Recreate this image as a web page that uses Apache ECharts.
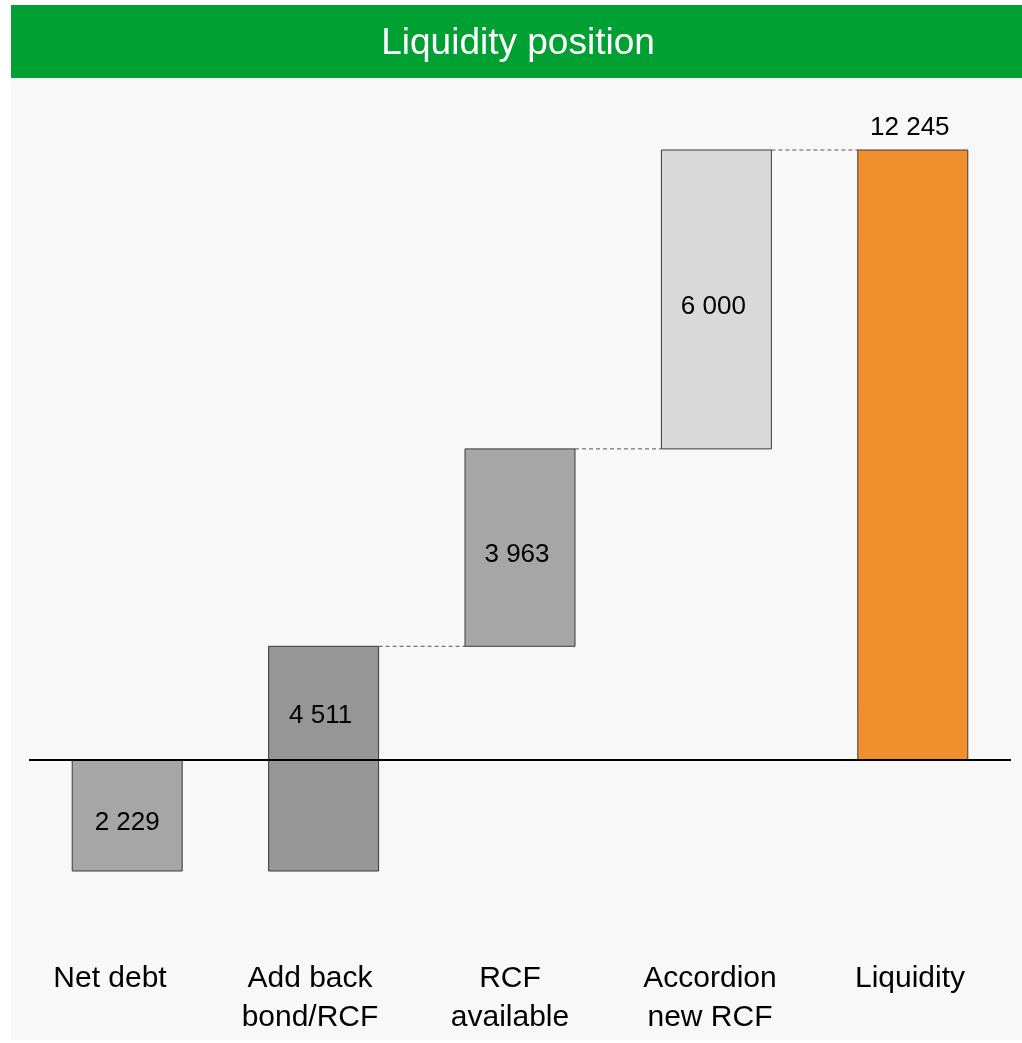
<!DOCTYPE html>
<html>
<head>
<meta charset="utf-8">
<title>Liquidity position</title>
<script src="https://cdn.jsdelivr.net/npm/echarts@6/dist/echarts.min.js"></script>
<style>
  html, body { margin: 0; padding: 0; background: #ffffff; }
  #chart { width: 1022px; height: 1043px; }
</style>
</head>
<body>
<div id="chart"></div>
<script>
// Waterfall steps (in the order drawn) and their amounts
const categories = ['Net debt', 'Add back\nbond/RCF', 'RCF\navailable', 'Accordion\nnew RCF', 'Liquidity'];
const changes = [-2229, 4511, 3963, 6000, 12245];
const isTotal = [false, false, false, false, true];
const barColors = ['#a6a6a6', '#969696', '#a6a6a6', '#d9d9d9', '#ef8f2d'];

const FONT = '"Liberation Sans", Arial, sans-serif';

// Running totals give each bar its lower and upper end
const bars = [];
let running = 0;
changes.forEach((v, i) => {
  let low, high;
  if (isTotal[i]) {
    low = Math.min(0, v); high = Math.max(0, v);
    running = v;
  } else {
    const next = running + v;
    low = Math.min(running, next); high = Math.max(running, next);
    running = next;
  }
  bars.push([i, low, high, Math.abs(v)]);
});
const yMin = Math.min(...bars.map(b => b[1]));
const yMax = Math.max(...bars.map(b => b[2]));

function fmt(n) {
  return String(n).replace(/\B(?=(\d{3})+(?!\d))/g, ' ');
}

function renderItem(params, api) {
  const i = api.value(0);
  const low = api.value(1);
  const high = api.value(2);
  const amount = api.value(3);
  const band = api.size([1, 0])[0];
  const w = band * 0.56;
  const pTop = api.coord([i, high]);
  const pBot = api.coord([i, low]);
  const x = pTop[0] - w / 2;
  const children = [{
    type: 'rect',
    shape: { x: x, y: pTop[1], width: w, height: pBot[1] - pTop[1] },
    style: { fill: barColors[i], stroke: '#3a3a3a', lineWidth: 1 }
  }];

  // Value label: inside the bar, above it for the total
  let ly, va;
  if (isTotal[i]) {
    ly = pTop[1] - 9; va = 'bottom';
  } else {
    const mid = low < 0 && high > 0 ? api.coord([i, high / 2 - 250])[1] : (pTop[1] + pBot[1]) / 2 + 7;
    ly = mid; va = 'middle';
  }
  children.push({
    type: 'text',
    x: pTop[0] - (i === 0 ? 0 : 3), y: ly,
    style: { text: fmt(amount), font: '26px ' + FONT, fill: '#000', align: 'center', verticalAlign: va }
  });

  // Dashed connector to the next bar when it starts or ends at this bar's top
  if (i + 1 < bars.length) {
    const nb = bars[i + 1];
    if (nb[1] === high || nb[2] === high) {
      const nx = api.coord([i + 1, high])[0] - w / 2;
      children.push({
        type: 'line',
        shape: { x1: x + w, y1: pTop[1], x2: nx, y2: pTop[1] },
        style: { stroke: '#555555', lineWidth: 1, lineDash: [4, 3] }
      });
    }
  }
  return { type: 'group', children: children };
}

const chart = echarts.init(document.getElementById('chart'));
chart.setOption({
  animation: false,
  backgroundColor: '#ffffff',
  graphic: [
    { type: 'rect', z: -10, shape: { x: 11, y: 5, width: 1011, height: 1035 }, style: { fill: '#f8f8f8' } },
    { type: 'rect', z: -9, shape: { x: 11, y: 5, width: 1011, height: 73 }, style: { fill: '#00a032' } },
    { type: 'text', z: -8, x: 518, y: 44, style: { text: 'Liquidity position', font: '37px ' + FONT, fill: '#ffffff', align: 'center', verticalAlign: 'middle' } }
  ],
  grid: [
    { left: 29, right: 11, top: 150, bottom: 172 },
    // category captions sit on a slightly wider band than the bars
    { left: 10, right: 12, top: 150, bottom: 172 }
  ],
  xAxis: [{
    type: 'category',
    gridIndex: 0,
    data: categories,
    axisLine: { show: false },
    axisTick: { show: false },
    splitLine: { show: false },
    axisLabel: { show: false }
  }, {
    type: 'category',
    gridIndex: 1,
    data: categories,
    axisLine: { show: false },
    axisTick: { show: false },
    splitLine: { show: false },
    axisLabel: { margin: 88, fontSize: 30, lineHeight: 39, color: '#000', fontFamily: FONT, interval: 0 }
  }],
  yAxis: [{
    type: 'value',
    gridIndex: 0,
    min: yMin, max: yMax,
    show: false,
    splitLine: { show: false }
  }, {
    type: 'value',
    gridIndex: 1,
    min: yMin, max: yMax,
    show: false,
    splitLine: { show: false }
  }],
  series: [{
    type: 'custom',
    xAxisIndex: 0,
    yAxisIndex: 0,
    renderItem: renderItem,
    encode: { x: 0, y: [1, 2] },
    data: bars,
    z: 2,
    markLine: {
      silent: true,
      symbol: 'none',
      label: { show: false },
      lineStyle: { color: '#000', width: 2, type: 'solid' },
      data: [{ yAxis: 0 }],
      z: 5
    }
  }]
});
</script>
</body>
</html>
